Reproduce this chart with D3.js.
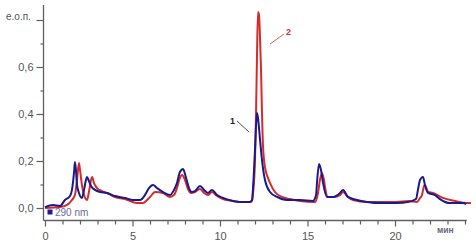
<!DOCTYPE html>
<html><head><meta charset="utf-8">
<script src="https://cdn.jsdelivr.net/npm/d3@7"></script>
<style>
html,body{margin:0;padding:0;background:#fff;}
svg{display:block;font-family:"Liberation Sans",Arial,sans-serif;}
</style></head>
<body>
<svg id="c" width="476" height="246"></svg>
<script>
// Series 1 (blue) — time, min / absorbance
const time1 = [0,0.46,0.86,1.14,1.43,1.54,1.66,1.71,1.77,1.83,1.94,2.11,2.23,2.34,2.40,2.51,2.63,2.86,3.14,3.54,4.0,4.57,5.03,5.43,5.71,5.94,6.17,6.4,6.74,7.14,7.37,7.54,7.71,7.89,8.06,8.23,8.4,8.57,8.86,9.09,9.31,9.54,9.83,10.17,10.74,11.14,11.71,11.83,11.89,12.0,12.11,12.17,12.29,12.4,12.57,12.86,13.26,13.83,14.57,15.31,15.49,15.54,15.66,15.77,15.89,16.11,16.46,16.86,17.03,17.31,17.83,18.4,19.14,20.06,20.8,21.2,21.31,21.43,21.6,21.71,21.89,22.29,22.57,23.14,23.89,24.06];
const abs1  = [0.004,0.013,0.009,0.034,0.051,0.077,0.153,0.196,0.16,0.098,0.064,0.043,0.077,0.119,0.132,0.115,0.094,0.077,0.068,0.064,0.051,0.043,0.034,0.034,0.055,0.085,0.098,0.085,0.068,0.055,0.077,0.106,0.153,0.166,0.128,0.085,0.068,0.072,0.094,0.077,0.064,0.077,0.055,0.043,0.03,0.026,0.026,0.034,0.089,0.247,0.404,0.383,0.289,0.204,0.119,0.068,0.047,0.034,0.034,0.03,0.055,0.106,0.187,0.162,0.106,0.047,0.047,0.064,0.077,0.047,0.034,0.026,0.021,0.021,0.026,0.038,0.077,0.119,0.132,0.098,0.064,0.055,0.038,0.021,0.021,0.017];
// Series 2 (red)
const time2 = [0,0.86,1.26,1.54,1.71,1.83,1.94,2.0,2.11,2.23,2.4,2.51,2.63,2.69,2.8,2.97,3.26,3.54,4.0,4.57,5.26,5.6,5.83,6.0,6.29,6.74,7.14,7.37,7.54,7.71,7.83,8.0,8.17,8.34,8.57,8.86,9.09,9.31,9.54,9.83,10.17,10.74,11.14,11.71,11.83,11.89,12.0,12.06,12.11,12.17,12.23,12.29,12.34,12.4,12.46,12.57,12.74,12.86,13.14,13.54,14.0,14.57,15.43,15.6,15.71,15.83,15.94,16.0,16.17,16.51,16.86,17.03,17.31,17.6,18.4,19.14,20.06,20.8,21.26,21.43,21.54,21.66,21.71,21.83,21.89,22.17,22.74,23.43,24.11,24.34];
const abs2  = [0.0,0.004,0.013,0.034,0.055,0.119,0.191,0.162,0.098,0.055,0.034,0.068,0.119,0.132,0.106,0.085,0.072,0.064,0.047,0.038,0.021,0.021,0.034,0.047,0.068,0.064,0.047,0.055,0.085,0.128,0.14,0.119,0.081,0.064,0.068,0.081,0.064,0.055,0.068,0.051,0.038,0.03,0.026,0.026,0.03,0.064,0.204,0.404,0.63,0.834,0.821,0.715,0.6,0.404,0.26,0.174,0.128,0.106,0.068,0.047,0.038,0.03,0.026,0.064,0.119,0.149,0.119,0.089,0.047,0.047,0.055,0.068,0.047,0.034,0.026,0.026,0.026,0.03,0.026,0.043,0.055,0.094,0.098,0.077,0.068,0.064,0.043,0.03,0.021,0.021];

const yMajor = [0,0.2,0.4,0.6,0.8];
const yMinor = [0.1,0.3,0.5,0.7];
const xMajor = [0,5,10,15,20];
const xMinor = [1,2,3,4,6,7,8,9,11,12,13,14,16,17,18,19,21,22,23,24];
const yTitle = "е.о.п.";
const xTitle = "мин";
const legendText = "290 nm";

const svg = d3.select("#c");
const x = d3.scaleLinear().domain([0,20]).range([45,395]);
const y = d3.scaleLinear().domain([0,0.8]).range([208,20]);
const axisCol = "#606060";
const textCol = "#555";

const axX = 43.5, axY = 220.5;
svg.append("line").attr("x1",axX).attr("x2",axX).attr("y1",5).attr("y2",axY).attr("stroke",axisCol).attr("stroke-width",1.3);
svg.append("line").attr("x1",axX).attr("x2",x(24.1)).attr("y1",axY).attr("y2",axY).attr("stroke",axisCol).attr("stroke-width",1.3);

const fmt = d => d3.format(".1f")(d).replace(".",",");
const gy = svg.append("g").attr("transform",`translate(${axX},0)`)
  .call(d3.axisLeft(y).tickValues(yMajor).tickSize(7).tickPadding(3).tickFormat(d => d===0.8 ? "" : fmt(d)));
const gy2 = svg.append("g").attr("transform",`translate(${axX},0)`)
  .call(d3.axisLeft(y).tickValues(yMinor).tickSize(3).tickFormat(""));
const gx = svg.append("g").attr("transform",`translate(0,${axY})`)
  .call(d3.axisBottom(x).tickValues(xMajor).tickSize(6).tickPadding(6).tickFormat(d3.format("d")));
const gx2 = svg.append("g").attr("transform",`translate(0,${axY})`)
  .call(d3.axisBottom(x).tickValues(xMinor).tickSize(4).tickFormat(""));
[gy,gy2,gx,gx2].forEach(g=>{
  g.select(".domain").remove();
  g.selectAll("line").attr("stroke",axisCol).attr("stroke-width",1.2);
  g.selectAll("text").attr("fill",textCol).style("font-size","11px").style("font-family","'Liberation Sans',Arial,sans-serif");
});

svg.append("text").attr("x",6).attr("y",20).attr("fill",textCol).style("font-size","10px").text(yTitle);
svg.append("text").attr("x",437).attr("y",233).attr("fill","#6a6a7a").style("font-size","8.5px").style("font-weight","bold").text(xTitle);

const line = d3.line().curve(d3.curveMonotoneX);
const pts = (t,v) => t.map((d,i)=>[x(d), y(v[i])]);
svg.append("path").attr("d", line(pts(time2,abs2))).attr("fill","none").attr("stroke","#d82a2a").attr("stroke-width",2).attr("stroke-linejoin","round");
svg.append("path").attr("d", line(pts(time1,abs1))).attr("fill","none").attr("stroke","#1a1a8a").attr("stroke-width",2).attr("stroke-linejoin","round");

svg.append("rect").attr("x",47.5).attr("y",209.5).attr("width",5).attr("height",5).attr("fill","#1a1a9a");
svg.append("text").attr("x",55).attr("y",216).attr("fill","#6a6a9a").style("font-size","10px").text(legendText);

svg.append("text").attr("x",230).attr("y",124).attr("fill","#222").style("font-size","9px").style("font-weight","bold").text("1");
svg.append("line").attr("x1",237).attr("y1",121).attr("x2",249).attr("y2",132).attr("stroke","#555").attr("stroke-width",1);
svg.append("text").attr("x",286).attr("y",35).attr("fill","#d82a2a").style("font-size","9px").style("font-weight","bold").text("2");
svg.append("line").attr("x1",270).attr("y1",44).attr("x2",284).attr("y2",34).attr("stroke","#d86060").attr("stroke-width",1);
</script>
</body></html>
